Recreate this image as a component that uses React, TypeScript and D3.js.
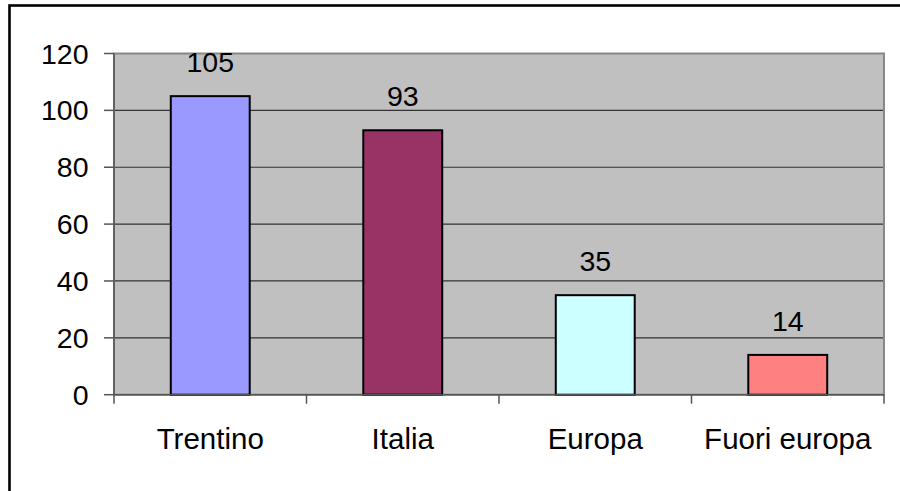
import React from "react";
import * as d3 from "d3";

const categories = ["Trentino", "Italia", "Europa", "Fuori europa"];
const values = [105, 93, 35, 14];
const colors = ["#9999FF", "#993366", "#CCFFFF", "#FF8080"];
const yTicks = [0, 20, 40, 60, 80, 100, 120];

const W = 900;
const H = 491;
const plot = { left: 114, top: 53.5, right: 884, bottom: 394.7 };
const FONT = "'Liberation Sans', Arial, sans-serif";

export default function App() {
  const x = d3
    .scaleBand<string>()
    .domain(categories)
    .range([plot.left, plot.right])
    .paddingInner(0)
    .paddingOuter(0);
  const y = d3.scaleLinear().domain([0, 120]).range([plot.bottom, plot.top]);
  const barW = x.bandwidth() * 0.41;
  const boundaries = categories.map((c) => x(c) as number).concat([plot.right]);

  return (
    <svg
      width={W}
      height={H}
      style={{ position: "absolute", left: 0, top: 0, background: "#fff" }}
      fontFamily={FONT}
    >
      <rect x={9.5} y={5.5} width={W + 10} height={H + 10} fill="#fff" stroke="#000" strokeWidth={2.6} />
      <rect
        x={plot.left}
        y={plot.top}
        width={plot.right - plot.left}
        height={plot.bottom - plot.top}
        fill="#C0C0C0"
      />
      {yTicks.slice(1, -1).map((t) => (
        <line key={"g" + t} x1={plot.left} x2={plot.right} y1={y(t)} y2={y(t)} stroke="#333" strokeWidth={1.2} />
      ))}
      <rect
        x={plot.left}
        y={plot.top}
        width={plot.right - plot.left}
        height={plot.bottom - plot.top}
        fill="none"
        stroke="#888"
        strokeWidth={2}
      />
      {categories.map((c, i) => {
        const cx = (x(c) as number) + x.bandwidth() / 2;
        return (
          <g key={c}>
            <rect
              x={cx - barW / 2}
              y={y(values[i])}
              width={barW}
              height={y(0) - y(values[i])}
              fill={colors[i]}
              stroke="#000"
              strokeWidth={2}
            />
            <text x={cx} y={y(values[i]) - 24} textAnchor="middle" fontSize={28.5} fill="#000">
              {values[i]}
            </text>
            <text x={cx} y={448.5} textAnchor="middle" fontSize={29.5} fill="#000">
              {c}
            </text>
          </g>
        );
      })}
      <line x1={plot.left} x2={plot.right} y1={plot.bottom} y2={plot.bottom} stroke="#555" strokeWidth={1.5} />
      <line x1={plot.left} x2={plot.left} y1={plot.top} y2={plot.bottom} stroke="#555" strokeWidth={1.5} />
      {boundaries.map((b, i) => (
        <line key={"xt" + i} x1={b} x2={b} y1={plot.bottom} y2={plot.bottom + 9} stroke="#555" strokeWidth={1.5} />
      ))}
      {yTicks.map((t) => (
        <g key={"yt" + t}>
          <line x1={plot.left - 10} x2={plot.left} y1={y(t)} y2={y(t)} stroke="#555" strokeWidth={1.5} />
          <text x={88.5} y={y(t) + 10} textAnchor="end" fontSize={28.5} fill="#000">
            {t}
          </text>
        </g>
      ))}
    </svg>
  );
}
